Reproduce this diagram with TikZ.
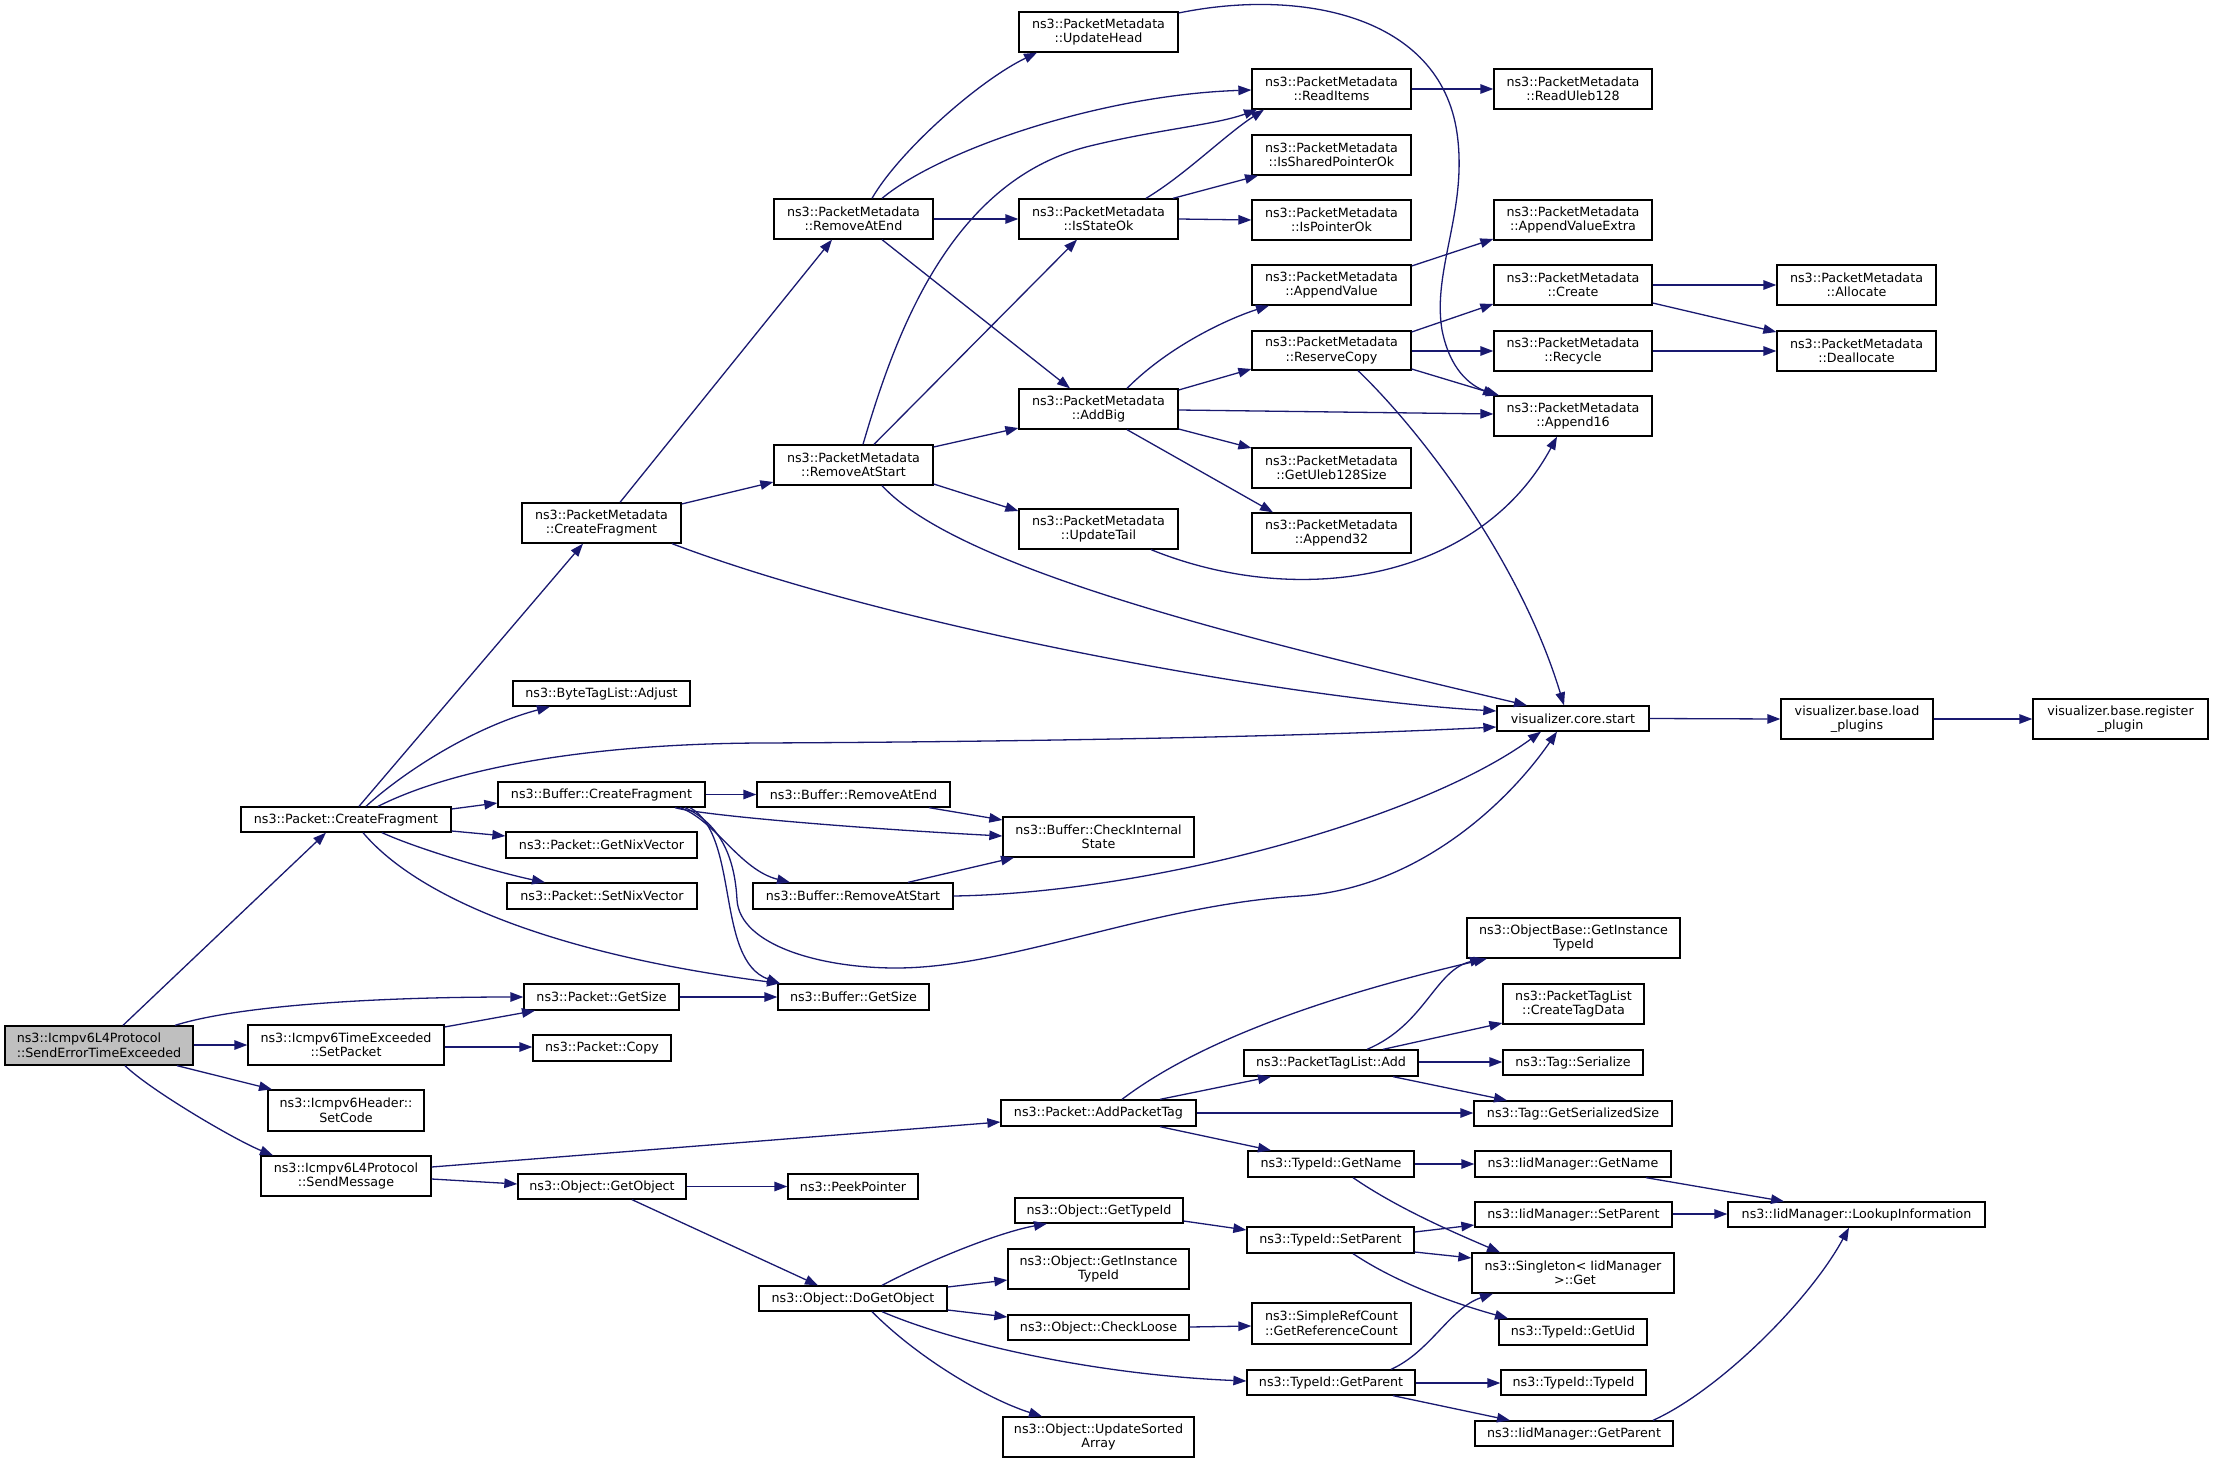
\documentclass[tikz,border=0pt]{standalone}
\usepackage{fontspec}
\setmainfont{DejaVu Sans}
\usetikzlibrary{arrows.meta}
\definecolor{edgec}{HTML}{191970}
\definecolor{segray}{HTML}{BFBFBF}
\newcommand{\bx}[6]{\node[box,minimum width={(#4-#2)*1pt},minimum height={(#5-#3)*1pt}] (#1) at ({(#2+#4)/2},{(#3+#5)/2}) {#6};}
\begin{document}
\begin{tikzpicture}[x=1pt,y=-1pt,
  box/.style={draw=black,fill=white,line width=1.3pt,inner sep=0pt,align=center,font=\fontsize{12.7}{14.5}\selectfont},
  e/.style={draw=edgec,line width=1.3pt,-{Triangle[length=13pt,width=9.5pt]}}]
\useasboundingbox (0,0) rectangle (2213,1463);
\node[box,fill=segray,align=left,minimum width=188pt,minimum height=39pt] (SE) at (99,1045.5) {ns3::Icmpv6L4Protocol\\::SendErrorTimeExceeded};
\bx{PCF}{241}{807}{451}{832}{ns3::Packet::CreateFragment}
\bx{GetSize}{524}{984}{679}{1010}{ns3::Packet::GetSize}
\bx{SetPacket}{248}{1025}{444}{1065}{ns3::Icmpv6TimeExceeded\\::SetPacket}
\bx{Copy}{533}{1035}{671}{1061}{ns3::Packet::Copy}
\bx{SetCode}{268}{1090}{424}{1131}{ns3::Icmpv6Header::\\SetCode}
\bx{SendMessage}{261}{1156}{431}{1196}{ns3::Icmpv6L4Protocol\\::SendMessage}
\bx{PMCF}{522}{503}{681}{543}{ns3::PacketMetadata\\::CreateFragment}
\bx{Adjust}{513}{681}{690}{706}{ns3::ByteTagList::Adjust}
\bx{BCF}{498}{782}{705}{807}{ns3::Buffer::CreateFragment}
\bx{GetNix}{506}{832}{697}{858}{ns3::Packet::GetNixVector}
\bx{SetNix}{507}{883}{697}{909}{ns3::Packet::SetNixVector}
\bx{BGetSize}{778}{984}{929}{1010}{ns3::Buffer::GetSize}
\bx{RAE}{774}{199}{933}{239}{ns3::PacketMetadata\\::RemoveAtEnd}
\bx{RAS}{774}{445}{933}{485}{ns3::PacketMetadata\\::RemoveAtStart}
\bx{UpdateHead}{1019}{12}{1178}{52}{ns3::PacketMetadata\\::UpdateHead}
\bx{IsStateOk}{1019}{199}{1178}{239}{ns3::PacketMetadata\\::IsStateOk}
\bx{AddBig}{1019}{389}{1178}{429}{ns3::PacketMetadata\\::AddBig}
\bx{UpdateTail}{1019}{509}{1178}{549}{ns3::PacketMetadata\\::UpdateTail}
\bx{ReadItems}{1252}{69}{1411}{109}{ns3::PacketMetadata\\::ReadItems}
\bx{IsSharedPointerOk}{1252}{135}{1411}{175}{ns3::PacketMetadata\\::IsSharedPointerOk}
\bx{IsPointerOk}{1252}{200}{1411}{240}{ns3::PacketMetadata\\::IsPointerOk}
\bx{AppendValue}{1252}{265}{1411}{305}{ns3::PacketMetadata\\::AppendValue}
\bx{ReserveCopy}{1252}{331}{1411}{370}{ns3::PacketMetadata\\::ReserveCopy}
\bx{GetUleb}{1252}{448}{1411}{488}{ns3::PacketMetadata\\::GetUleb128Size}
\bx{Append32}{1252}{513}{1411}{553}{ns3::PacketMetadata\\::Append32}
\bx{ReadUleb}{1494}{69}{1652}{109}{ns3::PacketMetadata\\::ReadUleb128}
\bx{AppendValueExtra}{1494}{200}{1652}{240}{ns3::PacketMetadata\\::AppendValueExtra}
\bx{Create}{1494}{265}{1652}{305}{ns3::PacketMetadata\\::Create}
\bx{Recycle}{1494}{331}{1652}{371}{ns3::PacketMetadata\\::Recycle}
\bx{Append16}{1494}{396}{1652}{436}{ns3::PacketMetadata\\::Append16}
\bx{Allocate}{1777}{265}{1936}{305}{ns3::PacketMetadata\\::Allocate}
\bx{Deallocate}{1777}{331}{1936}{371}{ns3::PacketMetadata\\::Deallocate}
\bx{BRAE}{757}{782}{950}{807}{ns3::Buffer::RemoveAtEnd}
\bx{CIS}{1003}{817}{1194}{857}{ns3::Buffer::CheckInternal\\State}
\bx{BRAS}{753}{883}{953}{909}{ns3::Buffer::RemoveAtStart}
\bx{VCS}{1497}{706}{1649}{731}{visualizer.core.start}
\bx{LP}{1781}{699}{1933}{739}{visualizer.base.load\\\_plugins}
\bx{RP}{2033}{699}{2208}{739}{visualizer.base.register\\\_plugin}
\bx{APT}{1001}{1100}{1196}{1126}{ns3::Packet::AddPacketTag}
\bx{GetObject}{518}{1174}{686}{1199}{ns3::Object::GetObject}
\bx{PeekPointer}{788}{1174}{918}{1199}{ns3::PeekPointer}
\bx{GetTypeId}{1015}{1198}{1183}{1223}{ns3::Object::GetTypeId}
\bx{OGIT}{1008}{1249}{1189}{1289}{ns3::Object::GetInstance\\TypeId}
\bx{DGO}{759}{1286}{947}{1311}{ns3::Object::DoGetObject}
\bx{CheckLoose}{1008}{1315}{1189}{1340}{ns3::Object::CheckLoose}
\bx{UpdateSorted}{1003}{1417}{1194}{1457}{ns3::Object::UpdateSorted\\Array}
\bx{PTLAdd}{1244}{1050}{1418}{1076}{ns3::PacketTagList::Add}
\bx{TGetName}{1248}{1151}{1414}{1177}{ns3::TypeId::GetName}
\bx{TSetParent}{1247}{1227}{1414}{1253}{ns3::TypeId::SetParent}
\bx{GRC}{1252}{1303}{1411}{1344}{ns3::SimpleRefCount\\::GetReferenceCount}
\bx{TGetParent}{1247}{1370}{1415}{1395}{ns3::TypeId::GetParent}
\bx{OBGIT}{1467}{918}{1680}{958}{ns3::ObjectBase::GetInstance\\TypeId}
\bx{CTD}{1503}{984}{1644}{1024}{ns3::PacketTagList\\::CreateTagData}
\bx{Serialize}{1503}{1050}{1643}{1075}{ns3::Tag::Serialize}
\bx{GSS}{1474}{1101}{1672}{1126}{ns3::Tag::GetSerializedSize}
\bx{IGetName}{1475}{1151}{1671}{1177}{ns3::IidManager::GetName}
\bx{ISetParent}{1475}{1202}{1672}{1227}{ns3::IidManager::SetParent}
\bx{Lookup}{1728}{1202}{1985}{1227}{ns3::IidManager::LookupInformation}
\bx{Singleton}{1472}{1253}{1674}{1293}{ns3::Singleton< IidManager\\~>::Get}
\bx{GetUid}{1499}{1319}{1647}{1345}{ns3::TypeId::GetUid}
\bx{TTypeId}{1501}{1370}{1646}{1395}{ns3::TypeId::TypeId}
\bx{IGetParent}{1475}{1421}{1673}{1446}{ns3::IidManager::GetParent}
% edges
\draw[e] (SE.north -| 123,0) -- (PCF.south -| 326,0);
\draw[e] (SE.north -| 175,0) .. controls (240,1005) and (380,997) .. (GetSize.west);
\draw[e] (SE.east |- 0,1045) -- (SetPacket.west |- 0,1045);
\draw[e] (SE.south -| 177,0) -- (SetCode.north -| 272,0);
\draw[e] (SE.south -| 125,0) .. controls (150,1090) and (235,1140) .. (SendMessage.north -| 273,0);
\draw[e] (SetPacket.east |- 0,1027) -- (GetSize.south -| 535,0);
\draw[e] (SetPacket.east |- 0,1047) -- (Copy.west |- 0,1047);
\draw[e] (GetSize.east) -- (BGetSize.west);
\draw[e] (PCF.north -| 359,0) -- (PMCF.south -| 583,0);
\draw[e] (PCF.north -| 366,0) .. controls (400,775) and (470,728) .. (Adjust.south -| 550,0);
\draw[e] (PCF.north -| 378,0) .. controls (450,770) and (580,744) .. (760,743) .. controls (1000,742) and (1300,737) .. (VCS.west |- 0,727);
\draw[e] (PCF.east |- 0,809) -- (BCF.west |- 0,803);
\draw[e] (PCF.east |- 0,831) -- (GetNix.west |- 0,836);
\draw[e] (PCF.south -| 382,0) .. controls (420,850) and (500,873) .. (SetNix.north -| 545,0);
\draw[e] (PCF.south -| 363,0) .. controls (420,900) and (560,955) .. (BGetSize.north -| 780,0);
\draw[e] (BCF.east) -- (BRAE.west);
\draw[e] (BCF.south -| 675,0) .. controls (700,815) and (850,828) .. (CIS.west |- 0,836);
\draw[e] (BCF.south -| 680,0) .. controls (715,820) and (740,870) .. (BRAS.north -| 790,0);
\draw[e] (BCF.south -| 685,0) .. controls (722,825) and (735,860) .. (737,900) .. controls (740,945) and (820,968) .. (896,968) .. controls (1010,968) and (1150,905) .. (1300,896) .. controls (1420,888) and (1510,800) .. (VCS.south -| 1557,0);
\draw[e] (BCF.south -| 690,0) .. controls (740,835) and (715,960) .. (BGetSize.north -| 780,0);
\draw[e] (BRAE.south -| 929,0) -- (CIS.west |- 0,820);
\draw[e] (BRAS.north -| 908,0) -- (CIS.south -| 1014,0);
\draw[e] (BRAS.east |- 0,896) .. controls (1150,893) and (1420,820) .. (VCS.south -| 1541,0);
\draw[e] (PMCF.north -| 620,0) -- (RAE.south -| 832,0);
\draw[e] (PMCF.east |- 0,504) -- (RAS.west |- 0,482);
\draw[e] (PMCF.south -| 672,0) .. controls (900,630) and (1300,700) .. (VCS.west |- 0,711);
\draw[e] (RAS.south -| 882,0) .. controls (960,570) and (1250,640) .. (VCS.north -| 1527,0);
\draw[e] (RAE.north -| 872,0) .. controls (900,150) and (980,80) .. (UpdateHead.south -| 1037,0);
\draw[e] (RAE.north -| 882,0) .. controls (940,150) and (1100,95) .. (ReadItems.west |- 0,90);
\draw[e] (RAE.east) -- (IsStateOk.west);
\draw[e] (RAE.south -| 882,0) -- (AddBig.north -| 1070,0);
\draw[e] (RAS.north -| 863,0) .. controls (895,335) and (950,180) .. (1090,146) .. controls (1160,129) and (1215,125) .. (ReadItems.south -| 1257,0);
\draw[e] (RAS.north -| 874,0) -- (IsStateOk.south -| 1077,0);
\draw[e] (RAS.east |- 0,447) -- (AddBig.west |- 0,428);
\draw[e] (RAS.east |- 0,484) -- (UpdateTail.west |- 0,511);
\draw[e] (IsStateOk.north -| 1146,0) .. controls (1185,175) and (1225,135) .. (ReadItems.south -| 1264,0);
\draw[e] (IsStateOk.north -| 1173,0) -- (IsSharedPointerOk.south -| 1258,0);
\draw[e] (IsStateOk.east) -- (IsPointerOk.west);
\draw[e] (AddBig.north -| 1127,0) .. controls (1170,345) and (1230,318) .. (AppendValue.south -| 1269,0);
\draw[e] (AddBig.east |- 0,390) -- (ReserveCopy.west |- 0,369);
\draw[e] (AddBig.east |- 0,410) -- (Append16.west |- 0,414);
\draw[e] (AddBig.east |- 0,429) -- (GetUleb.west |- 0,448);
\draw[e] (AddBig.south -| 1127,0) -- (Append32.north -| 1273,0);
\draw[e] (UpdateHead.east |- 0,13) .. controls (1300,-12) and (1440,15) .. (1457,133) .. controls (1468,210) and (1432,270) .. (1442,330) .. controls (1450,370) and (1470,385) .. (Append16.north -| 1496,0);
\draw[e] (UpdateTail.south -| 1151,0) .. controls (1300,610) and (1480,580) .. (Append16.south -| 1557,0);
\draw[e] (ReadItems.east) -- (ReadUleb.west);
\draw[e] (AppendValue.east |- 0,266) -- (AppendValueExtra.west |- 0,239);
\draw[e] (ReserveCopy.east |- 0,332) -- (Create.west |- 0,304);
\draw[e] (ReserveCopy.east |- 0,351) -- (Recycle.west |- 0,351);
\draw[e] (ReserveCopy.east |- 0,369) -- (Append16.north -| 1499,0);
\draw[e] (ReserveCopy.south -| 1358,0) .. controls (1420,430) and (1520,560) .. (VCS.north -| 1564,0);
\draw[e] (Create.east) -- (Allocate.west);
\draw[e] (Create.east |- 0,303) -- (Deallocate.west |- 0,332);
\draw[e] (Recycle.east) -- (Deallocate.west);
\draw[e] (VCS.east) -- (LP.west);
\draw[e] (LP.east) -- (RP.west);
\draw[e] (SendMessage.east |- 0,1167) -- (APT.west |- 0,1122);
\draw[e] (SendMessage.east |- 0,1179) -- (GetObject.west |- 0,1184);
\draw[e] (GetObject.east) -- (PeekPointer.west);
\draw[e] (GetObject.south -| 632,0) -- (DGO.north -| 818,0);
\draw[e] (APT.north -| 1122,0) .. controls (1200,1040) and (1330,995) .. (OBGIT.south -| 1487,0);
\draw[e] (APT.north -| 1160,0) -- (PTLAdd.south -| 1271,0);
\draw[e] (APT.east |- 0,1113) -- (GSS.west |- 0,1113);
\draw[e] (APT.south -| 1160,0) -- (TGetName.north -| 1271,0);
\draw[e] (PTLAdd.north -| 1367,0) .. controls (1425,1025) and (1435,970) .. (OBGIT.south -| 1483,0);
\draw[e] (PTLAdd.north -| 1383,0) -- (CTD.west |- 0,1023);
\draw[e] (PTLAdd.east |- 0,1062) -- (Serialize.west |- 0,1062);
\draw[e] (PTLAdd.south -| 1393,0) -- (GSS.north -| 1507,0);
\draw[e] (TGetName.east) -- (IGetName.west);
\draw[e] (TGetName.south -| 1353,0) .. controls (1400,1210) and (1460,1235) .. (Singleton.north -| 1500,0);
\draw[e] (TSetParent.east |- 0,1232) -- (ISetParent.west |- 0,1225);
\draw[e] (TSetParent.east |- 0,1252) -- (Singleton.west |- 0,1258);
\draw[e] (TSetParent.south -| 1353,0) .. controls (1400,1285) and (1460,1305) .. (GetUid.north -| 1508,0);
\draw[e] (GetTypeId.east |- 0,1221) -- (TSetParent.west |- 0,1230);
\draw[e] (DGO.north -| 882,0) .. controls (930,1260) and (1000,1232) .. (GetTypeId.south -| 1047,0);
\draw[e] (DGO.east |- 0,1287) -- (OGIT.west |- 0,1280);
\draw[e] (DGO.east |- 0,1310) -- (CheckLoose.west |- 0,1317);
\draw[e] (DGO.south -| 882,0) .. controls (960,1345) and (1100,1375) .. (TGetParent.west |- 0,1381);
\draw[e] (DGO.south -| 872,0) .. controls (920,1360) and (990,1400) .. (UpdateSorted.north -| 1042,0);
\draw[e] (CheckLoose.east |- 0,1327) -- (GRC.west |- 0,1326);
\draw[e] (TGetParent.north -| 1391,0) .. controls (1430,1352) and (1450,1308) .. (Singleton.south -| 1493,0);
\draw[e] (TGetParent.east |- 0,1383) -- (TTypeId.west |- 0,1383);
\draw[e] (TGetParent.south -| 1393,0) -- (IGetParent.north -| 1510,0);
\draw[e] (IGetName.south -| 1646,0) -- (Lookup.north -| 1784,0);
\draw[e] (ISetParent.east |- 0,1214) -- (Lookup.west |- 0,1214);
\draw[e] (IGetParent.north -| 1653,0) .. controls (1720,1390) and (1810,1300) .. (Lookup.south -| 1849,0);
\end{tikzpicture}
\end{document}
